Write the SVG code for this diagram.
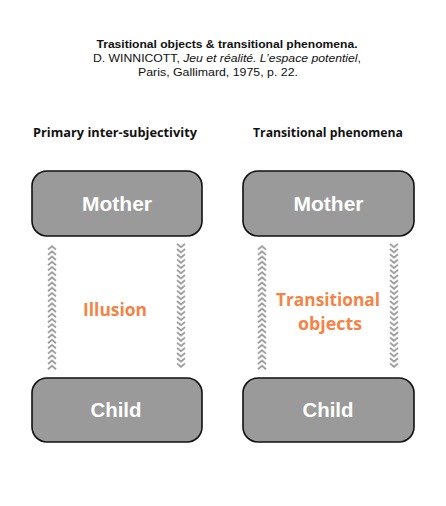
<svg xmlns="http://www.w3.org/2000/svg" width="446" height="506" viewBox="0 0 446 506">
<style>
.box{fill:#9a9a9a;stroke:#111;stroke-width:1.6}
.lbl{font-family:"Liberation Sans",Arial,sans-serif;font-weight:bold;font-size:20px;fill:#fff;text-anchor:middle}
.mid{font-family:"Open Sans","Noto Sans",sans-serif;font-weight:bold;font-size:18px;fill:#f58345;text-anchor:middle}
.hdr{font-family:"Open Sans","Noto Sans",sans-serif;font-weight:bold;font-size:12px;fill:#111;text-anchor:middle}
.ttl{font-family:"Liberation Sans",Arial,sans-serif;font-size:11px;fill:#111;text-anchor:middle}
.chev{fill:none;stroke:#9a9a9a;stroke-width:1.8}
</style>
<defs>
<pattern id="up" patternUnits="userSpaceOnUse" width="12" height="5.2" x="0" y="0">
<polyline class="chev" points="2,4.6 6,1.2 10,4.6"/>
</pattern>
<pattern id="down" patternUnits="userSpaceOnUse" width="12" height="5.2" x="0" y="0">
<polyline class="chev" points="2,0.8 6,4.2 10,0.8"/>
</pattern>
</defs>
<rect width="446" height="506" fill="#fff"/>
<g id="title">
<text class="ttl" x="227" y="48" font-weight="bold" textLength="261" lengthAdjust="spacingAndGlyphs">Trasitional objects &amp; transitional phenomena.</text>
<text class="ttl" x="227" y="62" textLength="268" lengthAdjust="spacingAndGlyphs">D. WINNICOTT, <tspan font-style="italic">Jeu et réalité. L’espace potentiel</tspan>,</text>
<text class="ttl" x="218" y="76" textLength="160" lengthAdjust="spacingAndGlyphs">Paris, Gallimard, 1975, p. 22.</text>
</g>
<g id="headers">
<text class="hdr" x="115" y="137" textLength="164" lengthAdjust="spacingAndGlyphs">Primary inter-subjectivity</text>
<text class="hdr" x="328" y="137" textLength="150" lengthAdjust="spacingAndGlyphs">Transitional phenomena</text>
</g>
<g id="connectors">
<g transform="translate(46,245)"><rect width="12" height="125" fill="url(#up)"/></g>
<g transform="translate(175,243)"><rect width="12" height="125" fill="url(#down)"/></g>
<g transform="translate(256,245)"><rect width="12" height="125" fill="url(#up)"/></g>
<g transform="translate(388,243)"><rect width="12" height="125" fill="url(#down)"/></g>
</g>
<g id="mother-left">
<rect class="box" x="32" y="171" width="170" height="65" rx="15"/>
<text class="lbl" x="117" y="210.5" textLength="70" lengthAdjust="spacingAndGlyphs">Mother</text>
</g>
<g id="child-left">
<rect class="box" x="32" y="378" width="170" height="64" rx="15"/>
<text class="lbl" x="116" y="417" textLength="51" lengthAdjust="spacingAndGlyphs">Child</text>
</g>
<g id="mother-right">
<rect class="box" x="243" y="171" width="171" height="65" rx="15"/>
<text class="lbl" x="328.5" y="210.5" textLength="70" lengthAdjust="spacingAndGlyphs">Mother</text>
</g>
<g id="child-right">
<rect class="box" x="243" y="378" width="171" height="64" rx="15"/>
<text class="lbl" x="328" y="417" textLength="51" lengthAdjust="spacingAndGlyphs">Child</text>
</g>
<g id="illusion">
<text class="mid" x="115" y="316" textLength="64" lengthAdjust="spacingAndGlyphs">Illusion</text>
</g>
<g id="transitional-objects">
<text class="mid" x="328" y="306" textLength="104" lengthAdjust="spacingAndGlyphs">Transitional</text>
<text class="mid" x="330" y="330" textLength="64" lengthAdjust="spacingAndGlyphs">objects</text>
</g>
</svg>
